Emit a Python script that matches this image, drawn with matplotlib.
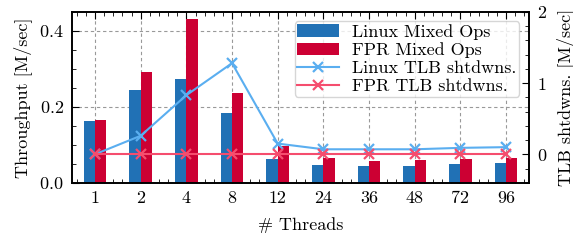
import numpy as np
import matplotlib
matplotlib.use('Agg')
import matplotlib.pyplot as plt
from matplotlib.ticker import MultipleLocator

plt.rcParams['font.family'] = 'serif'
plt.rcParams['font.serif'] = ['cmr10']
plt.rcParams['mathtext.fontset'] = 'cm'
plt.rcParams['axes.formatter.use_mathtext'] = True
plt.rcParams['font.size'] = 13

threads = ['1', '2', '4', '8', '12', '24', '36', '48', '72', '96']
linux_ops = [0.162, 0.244, 0.273, 0.183, 0.062, 0.047, 0.045, 0.045, 0.050, 0.053]
fpr_ops = [0.165, 0.292, 0.430, 0.236, 0.097, 0.065, 0.057, 0.060, 0.062, 0.065]
linux_tlb = [0.0, 0.26, 0.83, 1.28, 0.15, 0.07, 0.07, 0.07, 0.09, 0.10]
fpr_tlb = [0, 0, 0, 0, 0, 0, 0, 0, 0, 0]

x = np.arange(len(threads))
w = 0.25

fig = plt.figure(figsize=(5.73, 2.43), dpi=100)
ax = fig.add_axes([0.126, 0.248, 0.797, 0.703])
ax.bar(x - w/2, linux_ops, w, color='#2171b5', label='Linux Mixed Ops', zorder=2)
ax.bar(x + w/2, fpr_ops, w, color='#cc0033', label='FPR Mixed Ops', zorder=2)
ax.set_xlim(-0.5, 9.5)
ax.set_ylim(0, 0.45)
ax.set_xticks(x)
ax.set_xticklabels(threads)
ax.xaxis.set_minor_locator(MultipleLocator(0.2))
ax.yaxis.set_major_locator(MultipleLocator(0.2))
ax.yaxis.set_minor_locator(MultipleLocator(0.05))
ax.grid(True, which='major', linestyle=(0, (3, 2.5)), color='#999999', linewidth=0.8, zorder=0)
ax.set_axisbelow(True)
ax.tick_params(which='both', direction='in', top=True, right=False)
ax.tick_params(which='major', length=5, pad=6)
ax.tick_params(which='minor', length=3)
ax.set_xlabel('# Threads', labelpad=8)
ax.set_ylabel('Throughput [M/sec]', labelpad=5)

ax2 = ax.twinx()
ax2.plot(x, linux_tlb, color='#5aaef0', marker='x', markersize=7, mew=1.6, lw=1.5,
         label='Linux TLB shtdwns.')
ax2.plot(x, fpr_tlb, color='#f54d6e', marker='x', markersize=7, mew=1.6, lw=1.5,
         label='FPR TLB shtdwns.')
ax2.set_ylim(-0.4, 2.0)
ax2.yaxis.set_major_locator(MultipleLocator(1))
ax2.yaxis.set_minor_locator(MultipleLocator(0.2))
ax2.tick_params(which='both', direction='in')
ax2.tick_params(which='major', length=5, pad=6)
ax2.tick_params(which='minor', length=3)
ax2.set_ylabel('TLB shtdwns. [M/sec]', labelpad=6)

for a in (ax, ax2):
    for s in a.spines.values():
        s.set_linewidth(1.2)

h1, l1 = ax.get_legend_handles_labels()
h2, l2 = ax2.get_legend_handles_labels()
ax2.legend(h1 + h2, l1 + l2, loc='upper right', fontsize=13, framealpha=0.8,
           edgecolor='#cccccc', borderpad=0.15, labelspacing=0.13, handlelength=2.3,
           handletextpad=0.75, bbox_to_anchor=(0.999, 0.997))

fig.savefig('out.png', dpi=100)
